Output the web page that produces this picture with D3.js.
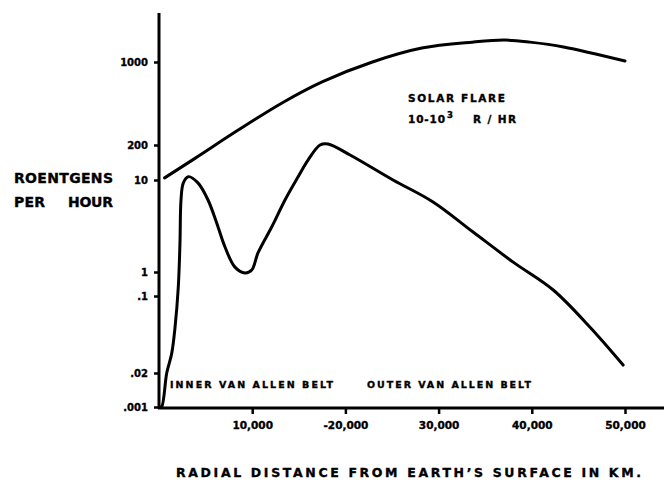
<!DOCTYPE html>
<html>
<head>
<meta charset="utf-8">
<script src="https://cdn.jsdelivr.net/npm/d3@7"></script>
<style>
  body { margin: 0; background: #fff; }
  text { font-family: "DejaVu Sans", sans-serif; font-weight: bold; fill: #000; stroke: #000; stroke-width: 0.35px; }
</style>
</head>
<body>
<svg id="chart" width="669" height="485"></svg>
<script>
// tick values on the (irregular) roentgen axis and their labels
var yTicks = [0.001, 0.02, 0.1, 1, 10, 200, 1000];
var yTickLabels = [".001", ".02", ".1", "1", "10", "200", "1000"];
var xTicks = [10000, 20000, 30000, 40000, 50000];
var xTickLabels = ["10,000", "-20,000", "30,000", "40,000", "50,000"];

// solar flare curve: km, roentgens per hour
var flareKm = [600, 3900, 8500, 13200, 17500, 22900, 28200, 33600, 37100, 39800, 43400, 50000];
var flareR  = [12, 65, 267, 452, 680, 1000, 1310, 1470, 1530, 1470, 1340, 1020];

// van allen belts curve: km, roentgens per hour
var beltKm = [100, 290, 830, 1360, 1720, 2070, 2250, 2360, 2610, 3140, 4180, 5260, 6190, 7080,
              8150, 9230, 9950, 10620, 12090, 13520, 14910, 15990, 17280, 18130, 20500, 25110,
              29400, 33700, 38000, 42300, 46250, 49800];
var beltR  = [0.001, 0.00103, 0.02, 0.030, 0.052, 0.237, 2.07, 6.06, 9.3, 13.3, 9.3, 6.06, 3.41, 1.87,
              1.13, 0.91, 1.05, 1.61, 3.08, 6.06, 12.9, 55, 200, 204, 85, 10,
              5.77, 2.72, 1.28, 0.178, 0.052, 0.0236];

var svg = d3.select("#chart");
var x0 = 159, xEnd = 664, yBase = 408, yTop = 13;

var x = d3.scaleLinear().domain([0, 50000]).range([x0, 625]);
// hand-drawn axis: each labelled tick sits at its own place, log spacing between
var y = d3.scaleLinear()
    .domain(yTicks.map(Math.log10))
    .range([407, 373, 296, 272, 180, 145, 62]);
function yv(v) { return y(Math.log10(v)); }

// axes
svg.append("line").attr("x1", x0).attr("x2", x0).attr("y1", yTop).attr("y2", yBase + 1)
    .attr("stroke", "#000").attr("stroke-width", 3);
svg.append("line").attr("x1", x0 - 1).attr("x2", xEnd).attr("y1", yBase).attr("y2", yBase)
    .attr("stroke", "#000").attr("stroke-width", 3);

var yAxis = svg.append("g")
    .attr("transform", "translate(" + x0 + ",0)")
    .call(d3.axisLeft(y).tickValues(yTicks.map(Math.log10)).tickSize(5).tickPadding(6)
        .tickFormat(function(d, i) { return yTickLabels[i]; }));
yAxis.select(".domain").remove();
yAxis.selectAll(".tick line").attr("stroke", "#000").attr("stroke-width", 2.5);
yAxis.selectAll(".tick text").style("font-size", "10px").attr("font-family", null);

var xAxis = svg.append("g")
    .attr("transform", "translate(0," + yBase + ")")
    .call(d3.axisBottom(x).tickValues(xTicks).tickSize(6).tickPadding(8)
        .tickFormat(function(d, i) { return xTickLabels[i]; }));
xAxis.select(".domain").remove();
xAxis.selectAll(".tick line").attr("stroke", "#000").attr("stroke-width", 2.5);
xAxis.selectAll(".tick text").style("font-size", "10.5px").attr("font-family", null);

// curves
var line = d3.line().curve(d3.curveCatmullRom.alpha(0.5));
function draw(km, r) {
  svg.append("path")
      .attr("d", line(km.map(function(k, i) { return [x(k), yv(r[i])]; })))
      .attr("fill", "none").attr("stroke", "#000").attr("stroke-width", 3)
      .attr("stroke-linecap", "round").attr("stroke-linejoin", "round");
}
draw(flareKm, flareR);
draw(beltKm, beltR);

// lettering
function label(t, px, py, size, len, anchor) {
  var el = svg.append("text").attr("x", px).attr("y", py)
      .style("font-size", size + "px").text(t);
  if (len) el.attr("textLength", len).attr("lengthAdjust", "spacing");
  if (anchor) el.attr("text-anchor", anchor);
  return el;
}
label("ROENTGENS", 14, 183, 14, 99);
label("PER", 14, 207, 14, 31);
label("HOUR", 68, 207, 14, 45);

label("SOLAR FLARE", 408, 102, 10.5, 97);
label("10-10", 408, 123, 10.5, 37);
svg.append("text").attr("x", 447).attr("y", 118).style("font-size", "8.5px").text("3");
label("R / HR", 473, 123, 10.5, 43);

label("INNER VAN ALLEN BELT", 170, 388, 9.5, 163);
label("OUTER VAN ALLEN BELT", 367, 388, 9.5, 164);

label("RADIAL DISTANCE FROM EARTH\u02BCS SURFACE IN KM.", 176, 477, 12.5, 465);
</script>
</body>
</html>
